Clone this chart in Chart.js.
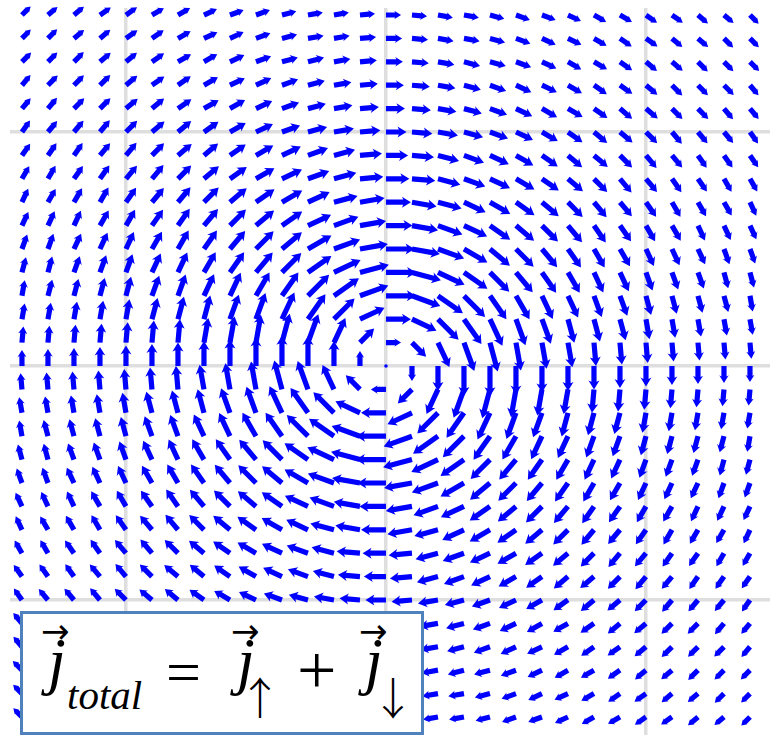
<!DOCTYPE html>
<html>
<head>
<meta charset="utf-8">
<title>j total</title>
<script src="https://cdn.jsdelivr.net/npm/chart.js@4.4.1/dist/chart.umd.min.js"></script>
<style>
  html, body { margin: 0; padding: 0; background: #fff; overflow: hidden; }
  #wrap { position: relative; width: 770px; height: 735px; }
  #field { position: absolute; left: 0; top: 0; }
  #formula {
    position: absolute; left: 20px; top: 611px; width: 404px; height: 124px;
    box-sizing: border-box; border: 3px solid #4f81bd; background: #fff;
    font-family: 'Liberation Serif', 'Times New Roman', serif; color: #000;
  }
  #formula span { position: absolute; line-height: 1; white-space: nowrap; color: #000; }
  .it { font-style: italic; }
  .sym { font-family: 'DejaVu Sans', sans-serif; }
  .spin { font-family: 'Noto Sans CJK JP', 'DejaVu Sans', sans-serif; font-weight: 300; }
</style>
</head>
<body>
<div id="wrap">
  <canvas id="field" width="770" height="735"></canvas>
  <div id="formula">
    <span class="sym" style="left:18px; top:0px; font-size:34px;">→</span>
    <span class="it" style="left:25px; top:15px; font-size:64px;">j</span>
    <span class="it" style="left:44px; top:61px; font-size:41px;">total</span>
    <span style="left:143px; top:27px; font-size:62px;">=</span>
    <span class="sym" style="left:208px; top:0px; font-size:34px;">→</span>
    <span class="it" style="left:214px; top:15px; font-size:64px;">j</span>
    <span class="spin" style="left:215px; top:60px; font-size:44px;">↑</span>
    <span style="left:274px; top:22px; font-size:70px;">+</span>
    <span class="sym" style="left:336px; top:0px; font-size:34px;">→</span>
    <span class="it" style="left:342px; top:15px; font-size:64px;">j</span>
    <span class="spin" style="left:348px; top:60px; font-size:44px;">↓</span>
  </div>
</div>
<script>
// grid positions of the arrow tails
const colX = [-14, -13, -12, -11, -10, -9, -8, -7, -6, -5, -4, -3, -2, -1, 0,
  1, 2, 3, 4, 5, 6, 7, 8, 9, 10, 11, 12, 13, 14];
const rowY = [15, 14, 13, 12, 11, 10, 9, 8, 7, 6, 5, 4, 3, 2, 1, 0,
  -1, -2, -3, -4, -5, -6, -7, -8, -9, -10, -11, -12, -13, -14, -15];

// reference lines of the plot
const gridLines = [-10, 0, 10];

// direction of j_total at each grid point, degrees counter-clockwise from +x
const fieldAngle = [
  [45,40,40,35,35,30,30,25,20,20,15,10,10,5,0,355,350,350,345,340,340,335,330,330,325,325,320,320,315],
  [45,45,40,40,35,35,30,25,25,20,15,10,10,5,0,355,350,350,345,340,335,335,330,325,325,320,320,315,315],
  [45,45,45,40,40,35,30,30,25,20,15,15,10,5,0,355,350,345,345,340,335,330,330,325,320,320,315,315,315],
  [50,45,45,45,40,35,35,30,25,25,20,15,10,5,0,355,350,345,340,335,335,330,325,325,320,315,315,315,310],
  [50,50,45,45,40,40,35,30,30,25,20,15,10,5,0,355,350,345,340,335,330,330,325,320,320,315,315,310,310],
  [55,50,50,50,45,40,40,35,30,25,20,15,10,5,0,355,350,345,340,335,330,325,320,320,315,310,310,310,305],
  [55,55,55,50,50,45,40,40,35,30,25,20,15,5,0,355,345,340,335,330,325,320,320,315,310,310,305,305,305],
  [60,60,55,55,50,50,45,40,35,30,25,20,15,5,0,355,345,340,335,330,325,320,315,310,310,305,305,300,300],
  [65,60,60,60,55,50,50,45,40,35,30,25,15,10,0,350,345,335,330,325,320,315,310,310,305,300,300,300,295],
  [65,65,65,60,60,55,55,50,45,40,35,25,20,10,0,350,340,335,325,320,315,310,305,305,300,300,295,295,295],
  [70,70,65,65,65,60,60,55,50,45,40,30,20,10,0,350,340,330,320,315,310,305,300,300,295,295,295,290,290],
  [75,75,70,70,70,65,65,60,55,50,45,35,25,15,0,345,335,325,315,310,305,300,295,295,290,290,290,285,285],
  [80,75,75,75,75,70,70,65,65,60,55,45,35,20,0,340,325,315,305,300,295,295,290,290,285,285,285,285,280],
  [80,80,80,80,80,75,75,75,70,70,65,55,45,25,0,335,315,305,295,290,290,285,285,285,280,280,280,280,280],
  [85,85,85,85,85,85,85,80,80,80,75,70,65,45,0,315,295,290,285,280,280,280,275,275,275,275,275,275,275],
  [90,90,90,90,90,90,90,90,90,90,90,90,90,90,0,270,270,270,270,270,270,270,270,270,270,270,270,270,270],
  [95,95,95,95,95,95,95,100,100,100,105,110,115,135,180,225,245,250,255,260,260,260,265,265,265,265,265,265,265],
  [100,100,100,100,100,105,105,105,110,110,115,125,135,155,180,205,225,235,245,250,250,255,255,255,260,260,260,260,260],
  [100,105,105,105,105,110,110,115,115,120,125,135,145,160,180,200,215,225,235,240,245,245,250,250,255,255,255,255,260],
  [105,105,110,110,110,115,115,120,125,130,135,145,155,165,180,195,205,215,225,230,235,240,245,245,250,250,250,255,255],
  [110,110,115,115,115,120,120,125,130,135,140,150,160,170,180,190,200,210,220,225,230,235,240,240,245,245,245,250,250],
  [115,115,115,120,120,125,125,130,135,140,145,155,160,170,180,190,200,205,215,220,225,230,235,235,240,240,245,245,245],
  [115,120,120,120,125,130,130,135,140,145,150,155,165,170,180,190,195,205,210,215,220,225,230,230,235,240,240,240,245],
  [120,120,125,125,130,130,135,140,145,150,155,160,165,175,180,185,195,200,205,210,215,220,225,230,230,235,235,240,240],
  [125,125,125,130,130,135,140,140,145,150,155,160,165,175,180,185,195,200,205,210,215,220,220,225,230,230,235,235,235],
  [125,130,130,130,135,140,140,145,150,155,160,165,170,175,180,185,190,195,200,205,210,215,220,220,225,230,230,230,235],
  [130,130,135,135,140,140,145,150,150,155,160,165,170,175,180,185,190,195,200,205,210,210,215,220,220,225,225,230,230],
  [130,135,135,135,140,145,145,150,155,155,160,165,170,175,180,185,190,195,200,205,205,210,215,215,220,225,225,225,230],
  [135,135,135,140,140,145,150,150,155,160,165,165,170,175,180,185,190,195,195,200,205,210,210,215,220,220,225,225,225],
  [135,135,140,140,145,145,150,155,155,160,165,170,170,175,180,185,190,190,195,200,205,205,210,215,215,220,220,225,225],
  [135,140,140,145,145,150,150,155,160,160,165,170,170,175,180,185,190,190,195,200,200,205,210,210,215,215,220,220,225]
];

// |j_total| at each grid point, in percent of one grid step
const fieldMag = [
  [47,48,50,51,52,53,54,55,56,57,57,58,58,58,58,58,58,58,57,57,56,55,54,53,52,51,50,48,47],
  [48,50,51,52,54,55,56,57,58,59,60,61,61,62,62,62,61,61,60,59,58,57,56,55,54,52,51,50,48],
  [50,51,53,54,55,57,58,59,61,62,63,64,64,65,65,65,64,64,63,62,61,59,58,57,55,54,53,51,50],
  [51,53,54,56,57,58,60,62,63,65,66,67,68,69,69,69,68,67,66,65,63,62,60,58,57,56,54,53,51],
  [52,54,56,57,59,61,63,65,67,69,70,71,72,73,73,73,72,71,70,69,67,65,63,61,59,57,56,54,52],
  [54,55,57,59,61,63,66,68,70,72,74,76,78,79,79,79,78,76,74,72,70,68,66,63,61,59,57,55,54],
  [55,57,58,61,63,66,69,71,74,77,80,82,84,85,85,85,84,82,80,77,74,71,69,66,63,61,58,57,55],
  [56,58,60,63,66,69,72,75,79,82,85,87,89,90,90,90,89,87,85,82,79,75,72,69,66,63,60,58,56],
  [57,59,62,65,68,71,75,80,84,87,90,92,94,96,96,96,94,92,90,87,84,80,75,71,68,65,62,59,57],
  [58,61,63,67,70,74,79,84,87,91,95,98,100,102,102,102,100,98,95,91,87,84,79,74,70,67,63,61,58],
  [59,62,65,69,72,77,82,87,91,96,100,104,107,109,110,109,107,104,100,96,91,87,82,77,72,69,65,62,59],
  [60,63,66,70,74,80,85,90,95,100,105,110,113,115,116,115,113,110,105,100,95,90,85,80,74,70,66,63,60],
  [61,64,67,71,76,82,87,92,98,104,110,115,117,116,115,116,117,115,110,104,98,92,87,82,76,71,67,64,61],
  [61,64,68,72,78,84,89,94,100,107,113,117,112,104,96,104,112,117,113,107,100,94,89,84,78,72,68,64,61],
  [62,65,69,73,79,85,90,96,102,109,115,116,104,77,58,77,104,116,115,109,102,96,90,85,79,73,69,65,62],
  [62,65,69,73,79,85,90,96,102,110,116,115,96,58,0,58,96,115,116,110,102,96,90,85,79,73,69,65,62],
  [62,65,69,73,79,85,90,96,102,109,115,116,104,77,58,77,104,116,115,109,102,96,90,85,79,73,69,65,62],
  [61,64,68,72,78,84,89,94,100,107,113,117,112,104,96,104,112,117,113,107,100,94,89,84,78,72,68,64,61],
  [61,64,67,71,76,82,87,92,98,104,110,115,117,116,115,116,117,115,110,104,98,92,87,82,76,71,67,64,61],
  [60,63,66,70,74,80,85,90,95,100,105,110,113,115,116,115,113,110,105,100,95,90,85,80,74,70,66,63,60],
  [59,62,65,69,72,77,82,87,91,96,100,104,107,109,110,109,107,104,100,96,91,87,82,77,72,69,65,62,59],
  [58,61,63,67,70,74,79,84,87,91,95,98,100,102,102,102,100,98,95,91,87,84,79,74,70,67,63,61,58],
  [57,59,62,65,68,71,75,80,84,87,90,92,94,96,96,96,94,92,90,87,84,80,75,71,68,65,62,59,57],
  [56,58,60,63,66,69,72,75,79,82,85,87,89,90,90,90,89,87,85,82,79,75,72,69,66,63,60,58,56],
  [55,57,58,61,63,66,69,71,74,77,80,82,84,85,85,85,84,82,80,77,74,71,69,66,63,61,58,57,55],
  [54,55,57,59,61,63,66,68,70,72,74,76,78,79,79,79,78,76,74,72,70,68,66,63,61,59,57,55,54],
  [52,54,56,57,59,61,63,65,67,69,70,71,72,73,73,73,72,71,70,69,67,65,63,61,59,57,56,54,52],
  [51,53,54,56,57,58,60,62,63,65,66,67,68,69,69,69,68,67,66,65,63,62,60,58,57,56,54,53,51],
  [50,51,53,54,55,57,58,59,61,62,63,64,64,65,65,65,64,64,63,62,61,59,58,57,55,54,53,51,50],
  [48,50,51,52,54,55,56,57,58,59,60,61,61,62,62,62,61,61,60,59,58,57,56,55,54,52,51,50,48],
  [47,48,50,51,52,53,54,55,56,57,57,58,58,58,58,58,58,58,57,57,56,55,54,53,52,51,50,48,47]
];

const ARROW_COLOR = '#0000ff';
const SHAFT_W = 5.2;

// one point per arrow tail; angle and size ride along on the point
const points = [];
rowY.forEach((y, r) => {
  colX.forEach((x, c) => {
    points.push({ x: x, y: y, angle: fieldAngle[r][c], mag: fieldMag[r][c] });
  });
});

function drawArrow(ctx, x0, y0, len, deg) {
  if (len <= 0) {
    ctx.beginPath();
    ctx.arc(x0, y0, 1.8, 0, Math.PI * 2);
    ctx.fill();
    return;
  }
  const a = deg * Math.PI / 180;
  const headLen = Math.min(9, len * 0.45);
  const headW = Math.max(SHAFT_W + 1.5, Math.min(11, headLen * 1.25));
  const neck = len - headLen * 0.85;
  ctx.save();
  ctx.translate(x0, y0);
  ctx.rotate(-a);
  ctx.beginPath();
  ctx.moveTo(0, -SHAFT_W / 2);
  ctx.lineTo(neck, -SHAFT_W / 2);
  ctx.lineTo(len - headLen, -headW / 2);
  ctx.lineTo(len, 0);
  ctx.lineTo(len - headLen, headW / 2);
  ctx.lineTo(neck, SHAFT_W / 2);
  ctx.lineTo(0, SHAFT_W / 2);
  ctx.closePath();
  ctx.fill();
  ctx.restore();
}

const quiverPlugin = {
  id: 'quiver',
  afterDatasetsDraw(chart) {
    const ctx = chart.ctx;
    const xs = chart.scales.x;
    const step = xs.getPixelForValue(1) - xs.getPixelForValue(0);
    const meta = chart.getDatasetMeta(0);
    ctx.save();
    ctx.fillStyle = ARROW_COLOR;
    meta.data.forEach((pt, k) => {
      const d = points[k];
      drawArrow(ctx, pt.x, pt.y, d.mag / 100 * step, d.angle);
    });
    ctx.restore();
  }
};

function onlyGridTicks(scale) {
  scale.ticks = gridLines.map(v => ({ value: v }));
}

const axisStyle = {
  type: 'linear',
  afterBuildTicks: onlyGridTicks,
  ticks: { display: false },
  grid: { color: '#dedede', lineWidth: 3.5, drawTicks: false },
  border: { display: false }
};

new Chart(document.getElementById('field').getContext('2d'), {
  type: 'scatter',
  data: {
    datasets: [{
      data: points,
      pointRadius: 0,
      pointHoverRadius: 0
    }]
  },
  options: {
    responsive: false,
    animation: false,
    devicePixelRatio: 1,
    layout: { padding: { left: 10, top: 8, right: 0, bottom: 0 } },
    plugins: { legend: { display: false }, tooltip: { enabled: false } },
    events: [],
    scales: {
      x: Object.assign({}, axisStyle, { min: -14.46, max: 14.77 }),
      y: Object.assign({}, axisStyle, { min: -15.77, max: 15.30 })
    }
  },
  plugins: [quiverPlugin]
});
</script>
</body>
</html>
